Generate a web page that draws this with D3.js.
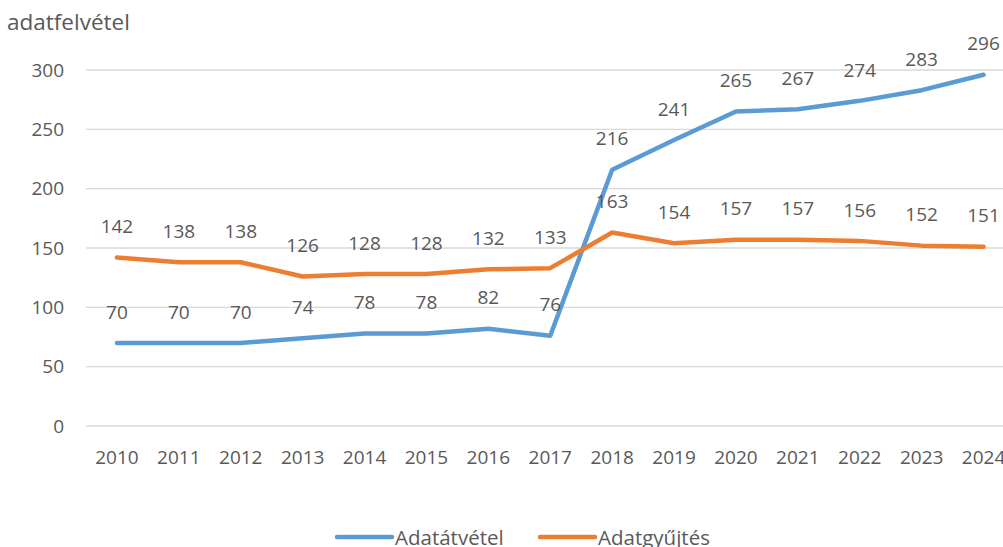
<!DOCTYPE html>
<html>
<head>
<meta charset="utf-8">
<script src="https://cdn.jsdelivr.net/npm/d3@7"></script>
<style>
  body { margin: 0; background: #fff; }
  text { font-family: "Open Sans", "Noto Sans", sans-serif; fill: #595959; }
</style>
</head>
<body>
<div id="chart"></div>
<script>
var years = ["2010","2011","2012","2013","2014","2015","2016","2017","2018","2019","2020","2021","2022","2023","2024"];
var atvetel = [70,70,70,74,78,78,82,76,216,241,265,267,274,283,296];
var gyujtes = [142,138,138,126,128,128,132,133,163,154,157,157,156,152,151];
var yTicks = [0,50,100,150,200,250,300];
var seriesNames = ["Adatátvétel","Adatgyűjtés"];
var colors = ["#5b9bd5","#ed7d31"];

var svgWidth = 1003, svgHeight = 547;
var margin = {top: 70, left: 86, bottom: 121};
var plotW = 61.9 * years.length;
var plotH = svgHeight - margin.top - margin.bottom;
var numSize = "19px";

var svg = d3.select("#chart").append("svg")
  .attr("width", svgWidth)
  .attr("height", svgHeight);

var x = d3.scaleBand().domain(years).range([margin.left, margin.left + plotW]);
var y = d3.scaleLinear().domain([0, 300]).range([margin.top + plotH, margin.top]);

// gridlines
svg.append("g").selectAll("line")
  .data(yTicks)
  .enter().append("line")
  .attr("x1", margin.left).attr("x2", svgWidth)
  .attr("y1", d => y(d)).attr("y2", d => y(d))
  .attr("stroke", "#d9d9d9").attr("stroke-width", 1.3);

// y tick labels
svg.append("g").selectAll("text")
  .data(yTicks)
  .enter().append("text")
  .attr("x", 64).attr("y", d => y(d))
  .attr("dy", "0.35em")
  .attr("text-anchor", "end")
  .style("font-size", numSize)
  .text(d => d);

// x tick labels
svg.append("g").selectAll("text")
  .data(years)
  .enter().append("text")
  .attr("x", d => x(d) + x.bandwidth() / 2)
  .attr("y", y(0) + 31)
  .attr("dy", "0.35em")
  .attr("text-anchor", "middle")
  .style("font-size", numSize)
  .text(d => d);

// axis title
svg.append("text")
  .attr("x", 7).attr("y", 22)
  .attr("dy", "0.35em")
  .style("font-size", "22.5px")
  .text("adatfelvétel");

var series = [atvetel, gyujtes];
var line = d3.line()
  .x((d, i) => x(years[i]) + x.bandwidth() / 2)
  .y(d => y(d));

series.forEach(function(s, k) {
  svg.append("path")
    .datum(s)
    .attr("d", line)
    .attr("fill", "none")
    .attr("stroke", colors[k])
    .attr("stroke-width", 4.5)
    .attr("stroke-linecap", "round")
    .attr("stroke-linejoin", "round");
});

series.forEach(function(s) {
  svg.append("g").selectAll("text")
    .data(s)
    .enter().append("text")
    .attr("x", (d, i) => x(years[i]) + x.bandwidth() / 2)
    .attr("y", d => y(d) - 31)
    .attr("dy", "0.35em")
    .attr("text-anchor", "middle")
    .style("font-size", numSize)
    .text(d => d);
});

// legend
var legendX = [337, 540];
seriesNames.forEach(function(name, k) {
  svg.append("line")
    .attr("x1", legendX[k]).attr("x2", legendX[k] + 55)
    .attr("y1", 537).attr("y2", 537)
    .attr("stroke", colors[k]).attr("stroke-width", 4.5)
    .attr("stroke-linecap", "round");
  svg.append("text")
    .attr("x", legendX[k] + 58).attr("y", 538)
    .attr("dy", "0.35em")
    .style("font-size", "20.5px")
    .text(name);
});
</script>
</body>
</html>
